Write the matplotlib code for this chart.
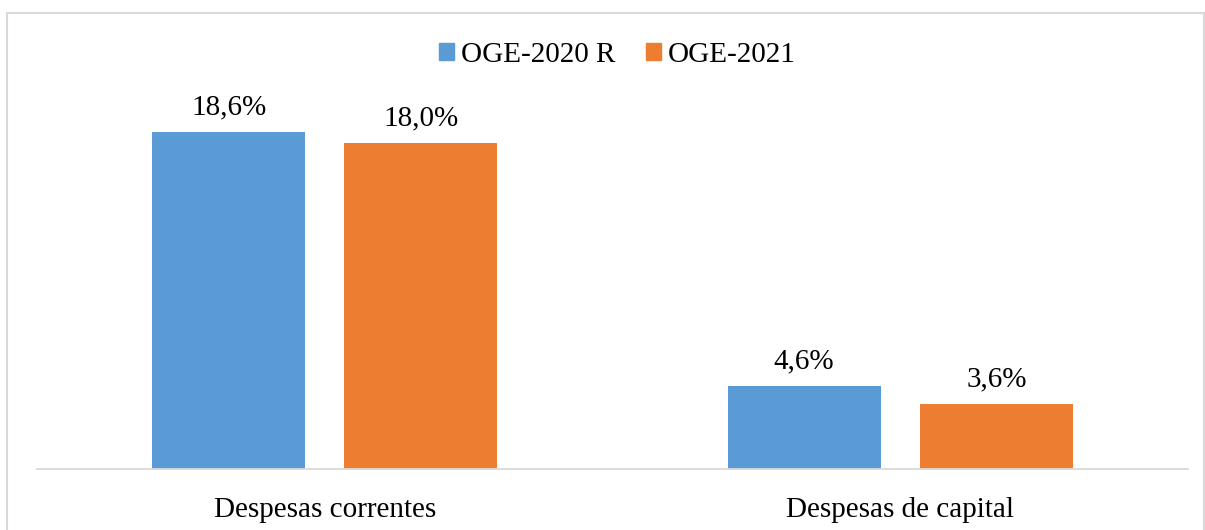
import numpy as np
import matplotlib.pyplot as plt
from matplotlib.patches import Rectangle, Patch

plt.rcParams['font.family'] = ['Liberation Serif', 'DejaVu Serif']

categories = ["Despesas correntes", "Despesas de capital"]
series_names = ["OGE-2020 R", "OGE-2021"]
oge_2020r = [18.6, 4.6]
oge_2021 = [18.0, 3.6]
colors = ["#5B9BD5", "#ED7D31"]

fig = plt.figure(figsize=(12.05, 5.3), dpi=100)
ax = fig.add_axes([0.0307, 0.1151, 0.9552, 0.683])

x = np.arange(len(categories))
w = 0.266
off = 0.167
for i, vals in enumerate([oge_2020r, oge_2021]):
    pos = x + (off if i else -off)
    bars = ax.bar(pos, vals, width=w, color=colors[i], zorder=2)
    for b, v in zip(bars, vals):
        ax.text(b.get_x() + b.get_width() / 2, v + 0.65, f"{v:.1f}%".replace(".", ","),
                ha="center", va="bottom", fontsize=21)

ax.set_xlim(-0.5, 1.5)
ax.set_ylim(0, 20)
ax.set_yticks([])
ax.set_xticks(x)
ax.set_xticklabels(categories, fontsize=21)
ax.tick_params(axis="x", length=0, pad=20)
for s in ["top", "left", "right"]:
    ax.spines[s].set_visible(False)
ax.spines["bottom"].set_color("#d9d9d9")
ax.spines["bottom"].set_linewidth(1.3)

handles = [Patch(color=c) for c in colors]
fig.legend(handles, series_names, loc="center", bbox_to_anchor=(0.5125, 0.897),
           ncol=2, frameon=False, fontsize=21, handlelength=0.5, handleheight=0.5,
           handletextpad=0.25, columnspacing=1.05)

fig.patches.append(Rectangle((7 / 1205, -0.01), 1197 / 1205, 1 - 13 / 530 + 0.01,
                             transform=fig.transFigure, fill=False,
                             edgecolor="#d9d9d9", linewidth=1.5))

fig.savefig("out.png", dpi=100)
